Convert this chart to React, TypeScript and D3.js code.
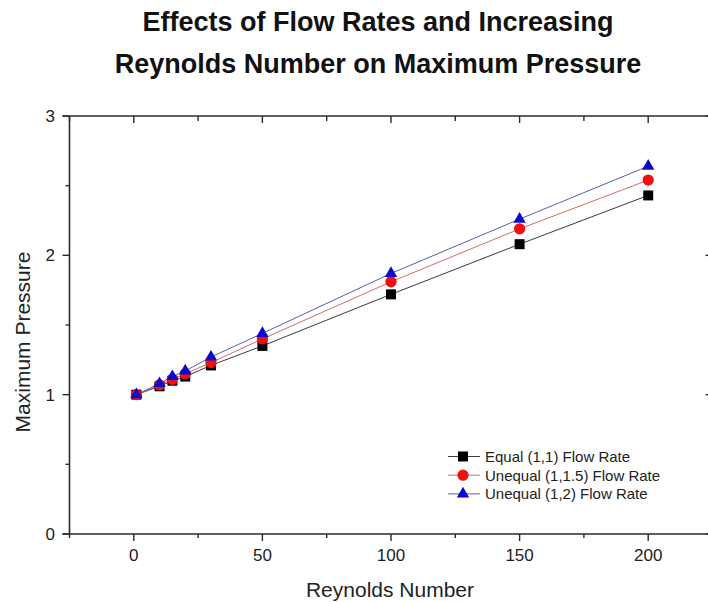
import React from "react";
import * as d3 from "d3";

const reynolds = [1, 10, 15, 20, 30, 50, 100, 150, 200];
const equalRate = [1.0, 1.06, 1.1, 1.13, 1.21, 1.35, 1.72, 2.08, 2.43];
const unequal15 = [1.0, 1.07, 1.11, 1.15, 1.23, 1.4, 1.81, 2.19, 2.54];
const unequal2 = [1.0, 1.08, 1.13, 1.17, 1.27, 1.44, 1.87, 2.26, 2.64];
const seriesNames = [
  "Equal (1,1) Flow Rate",
  "Unequal (1,1.5) Flow Rate",
  "Unequal (1,2) Flow Rate",
];
const xMajor = [0, 50, 100, 150, 200];
const xMinor = [-25, 25, 75, 125, 175, 225];
const yMajor = [0, 1, 2, 3];
const yMinor = [0.5, 1.5, 2.5];
const titleLines = [
  "Effects of Flow Rates and Increasing",
  "Reynolds Number on Maximum Pressure",
];

const W = 708;
const H = 602;
const FONT = "'Liberation Sans', Arial, sans-serif";

export default function App() {
  const x = d3.scaleLinear().domain([-25, 225]).range([69.5, 712.5]);
  const y = d3.scaleLinear().domain([0, 3]).range([534, 116]);

  const series = [
    { name: seriesNames[0], values: equalRate, line: "#3a3a3a", fill: "#000000", shape: d3.symbolSquare, size: 100 },
    { name: seriesNames[1], values: unequal15, line: "#d86a6a", fill: "#f01010", shape: d3.symbolCircle, size: 100 },
    { name: seriesNames[2], values: unequal2, line: "#5a5ab8", fill: "#0a0acc", shape: d3.symbolTriangle, size: 66 },
  ];

  const lineGen = (vals: number[]) =>
    d3
      .line<number>()
      .x((_, i) => x(reynolds[i]))
      .y((v) => y(v))(vals) || "";

  const axisColor = "#2a2a2a";
  const left = x(-25);
  const right = x(225);
  const top = y(3);
  const bottom = y(0);

  return (
    <svg
      width={W}
      height={H}
      style={{ position: "absolute", left: 0, top: 0, background: "#fff" }}
      fontFamily={FONT}
    >
      <rect x={0} y={0} width={W} height={H} fill="#fff" />
      {/* Title */}
      {titleLines.map((t, i) => (
        <text
          key={t}
          x={378}
          y={31 + i * 42}
          textAnchor="middle"
          fontSize={27}
          fontWeight="bold"
          fill="#111"
        >
          {t}
        </text>
      ))}

      {/* Frame */}
      <line x1={left} x2={left} y1={top} y2={bottom} stroke={axisColor} strokeWidth={1.6} />
      <line x1={right} x2={right} y1={top} y2={bottom} stroke={axisColor} strokeWidth={1.6} />
      <line x1={left - 7} x2={right} y1={top} y2={top} stroke={axisColor} strokeWidth={1.6} />
      <line x1={left - 7} x2={right} y1={bottom} y2={bottom} stroke={axisColor} strokeWidth={1.6} />

      {/* Y ticks */}
      {yMajor.map((v) => (
        <g key={"ym" + v}>
          <line x1={left - 7} x2={left} y1={y(v)} y2={y(v)} stroke={axisColor} strokeWidth={1.4} />
          <line x1={right - 7} x2={right} y1={y(v)} y2={y(v)} stroke={axisColor} strokeWidth={1.4} />
          <text x={55} y={y(v)} dy="0.36em" textAnchor="end" fontSize={17} fill="#222">
            {v}
          </text>
        </g>
      ))}
      {yMinor.map((v) => (
        <g key={"yn" + v}>
          <line x1={left - 4} x2={left} y1={y(v)} y2={y(v)} stroke={axisColor} strokeWidth={1.4} />
          <line x1={right - 4} x2={right} y1={y(v)} y2={y(v)} stroke={axisColor} strokeWidth={1.4} />
        </g>
      ))}

      {/* X ticks */}
      {xMajor.map((v) => (
        <g key={"xm" + v}>
          <line x1={x(v)} x2={x(v)} y1={bottom} y2={bottom + 7} stroke={axisColor} strokeWidth={1.4} />
          <line x1={x(v)} x2={x(v)} y1={top} y2={top + 7} stroke={axisColor} strokeWidth={1.4} />
          <text x={x(v)} y={561} textAnchor="middle" fontSize={17} fill="#222">
            {v}
          </text>
        </g>
      ))}
      {xMinor.map((v) => (
        <g key={"xn" + v}>
          <line x1={x(v)} x2={x(v)} y1={bottom} y2={bottom + 4} stroke={axisColor} strokeWidth={1.4} />
          <line x1={x(v)} x2={x(v)} y1={top} y2={top + 5} stroke={axisColor} strokeWidth={1.4} />
        </g>
      ))}

      {/* Axis labels */}
      <text x={390} y={597} textAnchor="middle" fontSize={21} fill="#222">
        Reynolds Number
      </text>
      <text
        transform={`translate(30,342) rotate(-90)`}
        textAnchor="middle"
        fontSize={21}
        fill="#222"
      >
        Maximum Pressure
      </text>

      {/* Series */}
      {series.map((s) => (
        <g key={s.name}>
          <path d={lineGen(s.values)} fill="none" stroke={s.line} strokeWidth={1} />
        </g>
      ))}
      {series.map((s) => (
        <g key={s.name + "pts"}>
          {s.values.map((v, i) => (
            <path
              key={i}
              d={d3.symbol().type(s.shape).size(s.size)() || ""}
              transform={`translate(${x(reynolds[i])},${y(v)})`}
              fill={s.fill}
            />
          ))}
        </g>
      ))}

      {/* Legend */}
      {series.map((s, i) => {
        const ly = 456.5 + i * 18.7;
        return (
          <g key={s.name + "lg"}>
            <line x1={448} x2={480} y1={ly} y2={ly} stroke={s.line} strokeWidth={1} />
            <path
              d={d3.symbol().type(s.shape).size(s.size)() || ""}
              transform={`translate(463,${ly})`}
              fill={s.fill}
            />
            <text x={485} y={ly} dy="0.36em" fontSize={15} fill="#222">
              {s.name}
            </text>
          </g>
        );
      })}
    </svg>
  );
}
